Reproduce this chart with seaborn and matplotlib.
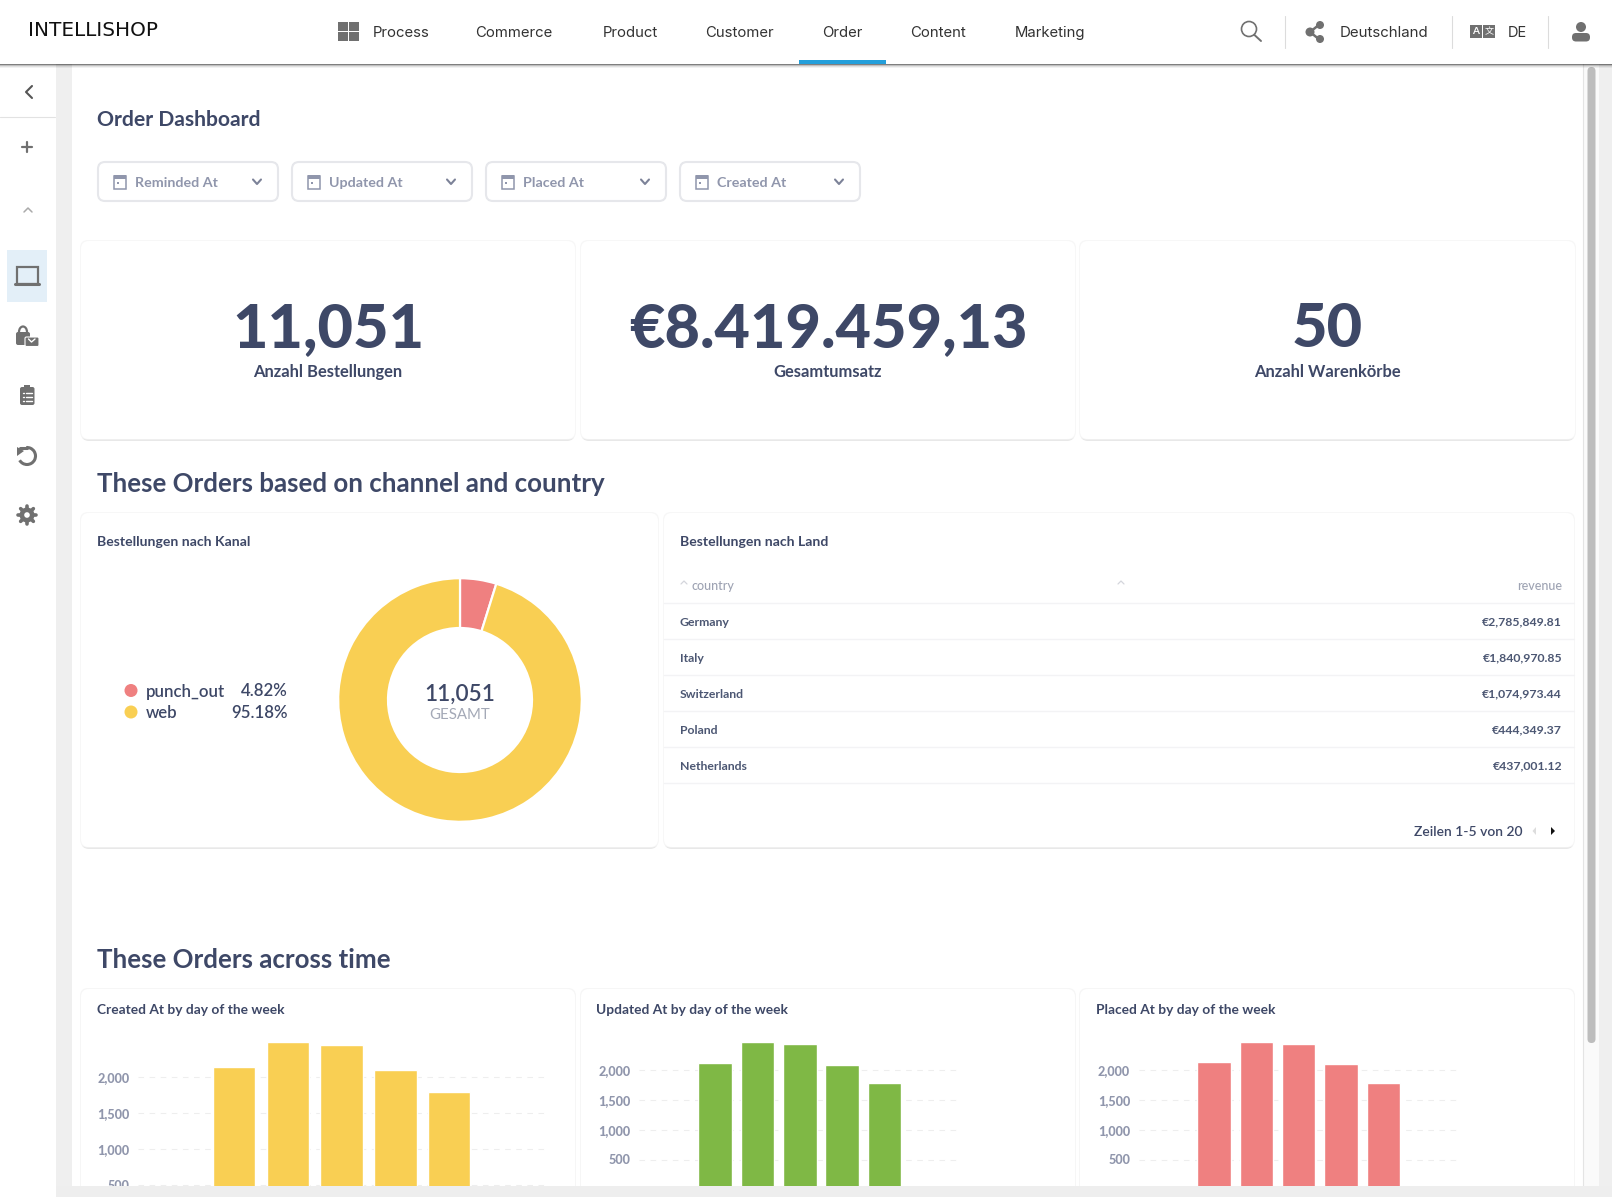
import numpy as np
import matplotlib
matplotlib.use("Agg")
import matplotlib.pyplot as plt
from matplotlib.patches import FancyBboxPatch, Rectangle, Circle, Polygon, Arc
import seaborn as sns

W, H = 1612, 1197

nav_labels = ["Process", "Commerce", "Product", "Customer", "Order", "Content", "Marketing"]
filter_labels = ["Reminded At", "Updated At", "Placed At", "Created At"]
kpi_values = ["11,051", "€8.419.459,13", "50"]
kpi_labels = ["Anzahl Bestellungen", "Gesamtumsatz", "Anzahl Warenkörbe"]

channels = ["punch_out", "web"]
channel_share = [4.82, 95.18]
channel_pct = ["4.82%", "95.18%"]

countries = ["Germany", "Italy", "Switzerland", "Poland", "Netherlands"]
revenue = ["€2,785,849.81", "€1,840,970.85", "€1,074,973.44", "€444,349.37", "€437,001.12"]

days = ["Mon", "Tue", "Wed", "Thu", "Fri"]
created_at = [2143, 2490, 2450, 2100, 1796]
updated_at = [2117, 2475, 2436, 2084, 1782]
placed_at = [2134, 2475, 2436, 2100, 1782]
bar_titles = ["Created At by day of the week", "Updated At by day of the week", "Placed At by day of the week"]
y_ticks = [500, 1000, 1500, 2000]

YELLOW, GREEN, RED = "#F9CF53", "#7FB845", "#EF8080"
NAVY = "#3E4867"
SLATE = "#4C5773"
GREY = "#9096AC"
ICON = "#707070"

sns.set_theme(style="white")
plt.rcParams["font.family"] = ["Lato", "DejaVu Sans"]


def box(x0, y0, x1, y1):
    return [x0 / W, 1 - y1 / H, (x1 - x0) / W, (y1 - y0) / H]


fig = plt.figure(figsize=(W / 100, H / 100), dpi=100, facecolor="white")
bg = fig.add_axes([0, 0, 1, 1], zorder=3)
bg.set_xlim(0, W)
bg.set_ylim(H, 0)
bg.axis("off")
bg.autoscale(False)


def label(x, y, s, size, color=NAVY, weight="normal", ha="left", family=None, va="center"):
    # size in pixels
    kw = {"family": family} if family else {}
    bg.text(x, y, s, fontsize=size * 0.72, color=color, fontweight=weight, ha=ha, va=va, **kw)


def rbox(x0, y0, x1, y1, r, fc, ec="none", lw=0, z=1):
    bg.add_patch(FancyBboxPatch((x0 + r, y0 + r), x1 - x0 - 2 * r, y1 - y0 - 2 * r,
                                boxstyle=f"round,pad={r},rounding_size={r}", fc=fc, ec=ec, lw=lw, zorder=z))


def card(x0, y0, x1, y1):
    rbox(x0, y0 + 3, x1, y1 + 2, 8, "#e8e8e8", z=1)
    rbox(x0 - 1, y0 - 1, x1 + 1, y1 + 0.5, 8, "#f7f7f7", z=1.05)
    rbox(x0, y0, x1, y1, 8, "white", z=1.1)


def line(xs, ys, color=ICON, lw=1.5, z=3):
    bg.plot(xs, ys, color=color, lw=lw, zorder=z, solid_capstyle="round", solid_joinstyle="round")


def chevron_down(x, y, color="#7c8298"):
    line([x - 4, x, x + 4], [y - 2.5, y + 2, y - 2.5], color=color, lw=1.5)


def calendar(x, y):
    bg.add_patch(Rectangle((x - 6, y - 6), 12, 13, fc="white", ec=GREY, lw=1.1, zorder=3))
    bg.add_patch(Rectangle((x - 6, y - 7), 12, 4, fc=GREY, ec="none", zorder=3))
    bg.add_patch(Rectangle((x - 3, y), 2, 2, fc=GREY, ec="none", zorder=3))


# page frame
bg.add_patch(Rectangle((56, 64), 16, H - 64, fc="#efefef", ec="none", zorder=0.5))
bg.add_patch(Rectangle((1583, 64), 29, H - 64, fc="#fafafa", ec="none", zorder=0.5))
bg.add_patch(Rectangle((1599, 64), 13, H - 64, fc="#efefef", ec="none", zorder=0.5))
line([1583, 1583], [64, H], color="#e4e4e4", lw=0.8, z=0.6)
rbox(1587.5, 67, 1595.5, 1043, 4, "#bdbdbd", z=0.7)

# top bar
for i, a in enumerate([0.5, 0.25, 0.12, 0.05]):
    bg.add_patch(Rectangle((0, 64 + i), W, 1, fc="black", alpha=a, ec="none", zorder=4))
label(28, 30.5, "INTELLISHOP", 20, color="#111111", family="DejaVu Sans")
for (xa, ya) in [(338, 22), (349, 22), (338, 32), (349, 32)]:
    bg.add_patch(Rectangle((xa, ya), 9.5, 9, fc=ICON, ec="none", zorder=3))
nav_x = [373, 475, 603, 705, 822.5, 910, 1015]
for x, s in zip(nav_x, nav_labels):
    label(x, 36.6, s, 14.9, color="#333333", family="Inter", va="baseline")
bg.add_patch(Rectangle((799, 60), 87, 4, fc="#239FDB", ec="none", zorder=5))
label(1340, 36.6, "Deutschland", 15, color="#333333", family="Inter", va="baseline")
label(1508, 36.6, "DE", 14.6, color="#333333", family="Inter", va="baseline")
for x in [1285, 1452, 1548]:
    line([x, x], [16, 48], color="#dcdcdc", lw=0.8)
bg.add_patch(Circle((1249, 29), 7.5, fc="none", ec=ICON, lw=1.2, zorder=3))
line([1254.5, 1261], [35, 41], lw=1.4)
line([1320, 1310, 1320], [24, 32, 40], lw=1.8)
for xa, ya, r in [(1320, 25, 4), (1310, 32, 4.5), (1320, 39, 4)]:
    bg.add_patch(Circle((xa, ya), r, fc=ICON, ec="none", zorder=3))
bg.add_patch(Rectangle((1470, 25), 12, 13, fc=ICON, ec="none", zorder=3))
bg.add_patch(Rectangle((1483, 25), 12, 13, fc=ICON, ec="none", zorder=3))
label(1476, 31.5, "A", 10, color="white", weight="bold", ha="center")
label(1489, 31.5, "文", 9, color="white", ha="center", family="Noto Sans CJK SC")
bg.add_patch(Circle((1581, 27), 5, fc=ICON, ec="none", zorder=3))
rbox(1572, 33, 1590, 41.5, 4, ICON, z=3)

# sidebar
bg.add_patch(Rectangle((7, 250), 40, 52, fc="#E3EFF8", ec="none", zorder=1))
line([0, 55], [117, 117], color="#e2e2e2", lw=0.8)
line([32, 26, 32], [86, 92, 98], color="#555555", lw=1.5)
line([22, 32], [147, 147], lw=1.6)
line([27, 27], [142, 152], lw=1.6)
line([24, 28, 32], [212, 208, 212], color="#aaaaaa", lw=1.1)
bg.add_patch(Rectangle((17, 267), 21, 17, fc="none", ec=ICON, lw=1.6, zorder=3))
line([15, 39], [284, 284], lw=2.2)
rbox(16, 332, 30, 345, 2, ICON, z=3)
rbox(25, 337, 39, 346.5, 1.5, ICON, ec="white", lw=0.8, z=3.1)
bg.add_patch(Arc((23, 332), 8, 11, theta1=180, theta2=360, ec=ICON, lw=1.6, zorder=3))
line([28.5, 31.5, 35], [339, 342, 339], color="white", lw=1, z=3.2)
rbox(20, 387, 34.5, 405, 2, ICON, z=3)
bg.add_patch(Rectangle((24, 385), 6, 4, fc=ICON, ec="none", zorder=3))
for yy in [393, 397, 401]:
    line([26, 32], [yy, yy], color="white", lw=1, z=3.1)
    line([22.5, 24], [yy, yy], color="white", lw=1, z=3.1)
bg.add_patch(Arc((27, 456), 17, 17, theta1=-95, theta2=150, ec=ICON, lw=2.2, zorder=3))
line([20, 27], [447.5, 447.5], lw=2.2)
bg.add_patch(Polygon([[17, 447], [24, 451], [17, 456]], fc=ICON, ec="none", zorder=3))
for a in np.deg2rad(np.arange(0, 360, 45)):
    line([27, 27 + 9 * np.cos(a)], [515, 515 + 9 * np.sin(a)], lw=2.6)
bg.add_patch(Circle((27, 515), 7.5, fc=ICON, ec="none", zorder=3.1))
bg.add_patch(Circle((27, 515), 2.8, fc="white", ec="none", zorder=3.2))

# header and filters
label(97, 120.5, "Order Dashboard", 21.2, weight="bold")
for x, s in zip([98, 292, 486, 680], filter_labels):
    rbox(x, 162, x + 180, 201, 7, "white", ec="#e6e7eb", lw=1.5, z=2)
    calendar(x + 22, 182)
    label(x + 37, 183, s, 14.3, color=GREY, weight="bold")
    chevron_down(x + 159, 182)

# KPI cards
for (x0, x1), v, s in zip([(81, 575), (581, 1075), (1080, 1575)], kpi_values, kpi_labels):
    card(x0, 241, x1, 439)
    label((x0 + x1) / 2, 329, v, 61.2, weight="black", ha="center")
    label((x0 + x1) / 2, 372, s, 16.5, weight="bold", ha="center")

label(97, 484, "These Orders based on channel and country", 25.9, weight="bold")
label(97, 960, "These Orders across time", 25.9, weight="bold")

# channel card
card(81, 513, 658, 847)
label(97, 542, "Bestellungen nach Kanal", 14, weight="bold")
for y, c, name, pct in zip([691.5, 713], [RED, YELLOW], channels, channel_pct):
    bg.add_patch(Circle((131, y - 1), 6.5, fc=c, ec="none", zorder=3))
    label(146, y, name, 16.8, color=NAVY, weight="semibold")
    label(288, y, pct, 16.8, color=NAVY, weight="semibold", ha="right")

pie_ax = fig.add_axes(box(338.2, 578.2, 581.8, 821.8), zorder=4)
pie_ax.pie(channel_share, colors=[RED, YELLOW], startangle=90, counterclock=False, radius=1,
           wedgeprops=dict(width=1 - 72 / 121.8, edgecolor="white", linewidth=1.6))
pie_ax.set_xlim(-1, 1)
pie_ax.set_ylim(-1, 1)
pie_ax.text(0, 0.05, kpi_values[0], fontsize=22.5 * 0.72, color=NAVY, fontweight="semibold", ha="center", va="center")
pie_ax.text(0, -0.125, "GESAMT", fontsize=15 * 0.72, color="#A4A9B7", ha="center", va="center")

# table card
card(664, 513, 1574, 847)
label(680, 542, "Bestellungen nach Land", 14, weight="bold")
label(692, 586, "country", 12.5, color="#9EA3B3", weight="medium")
label(1562, 586, "revenue", 12.5, color="#9EA3B3", weight="medium", ha="right")
for xc in [684, 1121]:
    line([xc - 3, xc, xc + 3], [584, 581, 584], color="#d4d6dc", lw=0.9)
for y in [603, 639, 675, 711, 747, 783]:
    line([664, 1574], [y, y], color="#f3f3f5", lw=1, z=2)
for y, c, r in zip([622, 658, 694, 730, 766], countries, revenue):
    label(680, y, c, 12.2, color=SLATE, weight="bold")
    label(1562, y, r, 12.2, color=SLATE, weight="bold", ha="right")
label(1522, 831.5, "Zeilen 1-5 von 20", 13.9, color=NAVY, weight="semibold", ha="right")
bg.add_patch(Polygon([[1536, 827], [1536, 835], [1532.5, 831]], fc="#dddddd", ec="none", zorder=3))
bg.add_patch(Polygon([[1551, 827], [1551, 835], [1555, 831]], fc="#111111", ec="none", zorder=3))

# bar cards, y axes run on past the visible page
cards = [(81, 575), (581, 1075), (1080, 1574)]
title_x = [97, 596.5, 1096]
series = [created_at, updated_at, placed_at]
colors = [YELLOW, GREEN, RED]
plot_box = [(138, 1041.3, 546, 1221.3), (639, 1040.3, 961, 1189.3), (1138.5, 1040.3, 1459.5, 1189.3)]

for (x0, x1), tx, s in zip(cards, title_x, bar_titles):
    rbox(x0 - 1, 988, x1 + 1, 1215, 8, "#f6f6f6", z=1)
    rbox(x0, 989, x1, 1214, 8, "white", z=1.1)
    label(tx, 1010, s, 13.7, weight="bold")

for vals, c, pb in zip(series, colors, plot_box):
    ax = fig.add_axes(box(*pb), zorder=4)
    ax.patch.set_alpha(0)
    sns.barplot(x=days, y=vals, color=c, saturation=1, width=0.79, ax=ax, zorder=3)
    ax.set_xlim(-1.79, 5.8)
    ax.set_ylim(0, 2500)
    ax.set_yticks(y_ticks)
    ax.set_yticklabels([f"{v:,}" for v in y_ticks], fontsize=12.6 * 0.72, color=GREY, fontweight="black")
    ax.tick_params(axis="y", length=0, pad=6)
    ax.set_xticks([])
    ax.set_xlabel("")
    ax.yaxis.grid(True, color="#eeeeee", linestyle=(0, (5, 5)), linewidth=0.8)
    ax.set_axisbelow(True)
    sns.despine(ax=ax, left=True, bottom=True)

# browser bottom edge sits over the clipped charts
top = fig.add_axes([0, 0, 1, 1], zorder=10)
top.set_xlim(0, W)
top.set_ylim(H, 0)
top.axis("off")
top.patch.set_alpha(0)
top.add_patch(Rectangle((56, 1186), W - 56, 11, fc="#eeeeee", ec="none"))

fig.savefig("out.png", dpi=100)
